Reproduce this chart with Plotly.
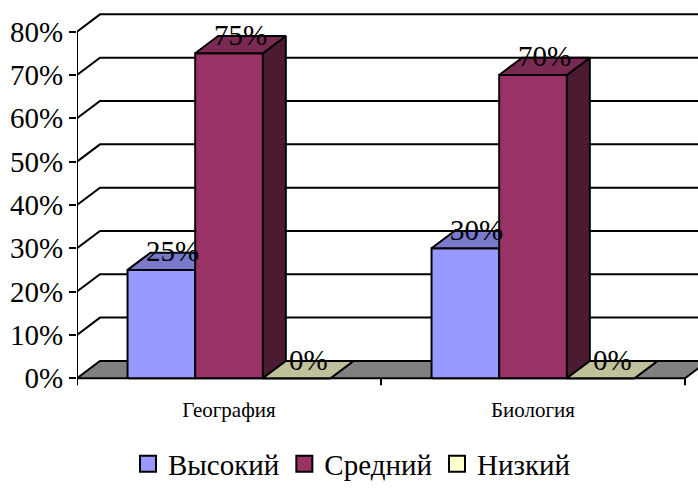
import plotly.graph_objects as go

# ---- data ----
subjects = ["География", "Биология"]
levels = ["Высокий", "Средний", "Низкий"]
high = [25, 30]
medium = [75, 70]
low = [0, 0]
y_ticks = [0, 10, 20, 30, 40, 50, 60, 70, 80]
y_tick_labels = ["0%", "10%", "20%", "30%", "40%", "50%", "60%", "70%", "80%"]

series = [high, medium, low]

# ---- styles ----
front_colors = ["#9999FF", "#993366", "#FFFFCC"]
top_colors = ["#7A7ACC", "#7A2952", "#C0C09A"]
side_colors = ["#4D4D80", "#4D1A33", "#80806A"]
FLOOR = "#808080"
FONT = "Liberation Serif"

# ---- canvas geometry ----
W, H = 698, 490
ML, MR, MT, MB = 77, 0, 4, 90
Y0_PX, Y80_PX = 383, 32
ppu = (Y0_PX - Y80_PX) / 80.0          # pixels per percent
ymax = (Y0_PX - MT) / ppu
ymin = -(H - MB - Y0_PX) / ppu
CAT_PX = 304.0                          # pixels per category
xmin = -0.5
xmax = -0.5 + (W - MR - ML) / CAT_PX

DX = 23.0 / CAT_PX                      # depth offset (x, data units)
DY = 17.5 / ppu                         # depth offset (y, data units)
BAR_W = 0.2225
XL, XR = -0.5, len(subjects) - 0.5

fig = go.Figure()


def poly(xs, ys, fill=None, width=2):
    fig.add_trace(go.Scatter(
        x=xs, y=ys, mode="lines",
        fill="toself" if fill else None,
        fillcolor=fill,
        line=dict(color="black", width=width),
        hoverinfo="skip", showlegend=False,
    ))


# floor
poly([XL, XR, XR + DX, XL + DX, XL], [0, 0, DY, DY, 0], FLOOR)

# wall gridlines (side diagonal + back horizontal)
gx, gy = [], []
for v in y_ticks[1:]:
    gx += [XL, XL + DX, XR + DX + 0.2, None]
    gy += [v, v + DY, v + DY, None]
poly(gx, gy)

# front value axis line
poly([XL, XL], [0, y_ticks[-1]])

# category separator ticks below the floor
tlen = 7.0 / ppu
tx, ty = [], []
for k in range(len(subjects) + 1):
    xv = XL + k
    tx += [xv, xv, None]
    ty += [0, -tlen, None]
poly(tx, ty)

# 3D bars, drawn left to right so nearer faces cover hidden ones
annotations = []
for i in range(len(subjects)):
    for j, vals in enumerate(series):
        v = vals[i]
        x0 = i - 1.5 * BAR_W + j * BAR_W
        x1 = x0 + BAR_W
        poly([x1, x1 + DX, x1 + DX, x1, x1], [0, DY, v + DY, v, 0], side_colors[j])
        poly([x0, x1, x1, x0, x0], [0, 0, v, v, 0], front_colors[j])
        poly([x0, x1, x1 + DX, x0 + DX, x0], [v, v, v + DY, v + DY, v], top_colors[j])
        annotations.append(dict(
            x=(x0 + x1) / 2 + DX / 2, y=v + DY / 2, yshift=10,
            text=f"{v}%", showarrow=False,
            font=dict(family=FONT, size=29, color="black"),
        ))

# legend entries
for j, name in enumerate(levels):
    fig.add_trace(go.Scatter(
        x=[None], y=[None], mode="markers", name=name,
        marker=dict(symbol="square", size=16, color=front_colors[j],
                    line=dict(color="black", width=2)),
    ))

plot_w = W - ML - MR
plot_h = H - MT - MB
fig.update_layout(
    width=W, height=H,
    margin=dict(l=ML, r=MR, t=MT, b=MB, pad=0),
    paper_bgcolor="white", plot_bgcolor="white",
    font=dict(family=FONT, color="black"),
    annotations=annotations,
    showlegend=True,
    legend=dict(
        orientation="h",
        x=(352 - ML) / plot_w, xanchor="center",
        y=-(444 - (H - MB)) / plot_h, yanchor="top",
        font=dict(family=FONT, size=29),
        itemclick=False, itemdoubleclick=False,
    ),
    xaxis=dict(
        range=[xmin, xmax], showgrid=False, zeroline=False, showline=False,
        tickmode="array", tickvals=list(range(len(subjects))), ticktext=subjects,
        ticks="", tickfont=dict(family=FONT, size=21),
        fixedrange=True,
    ),
    yaxis=dict(
        range=[ymin, ymax], showgrid=False, zeroline=False, showline=False,
        tickmode="array", tickvals=y_ticks, ticktext=y_tick_labels,
        ticks="outside", ticklen=7, tickwidth=2, tickcolor="black",
        tickfont=dict(family=FONT, size=29),
        fixedrange=True,
    ),
)

fig.write_html("out.html")
